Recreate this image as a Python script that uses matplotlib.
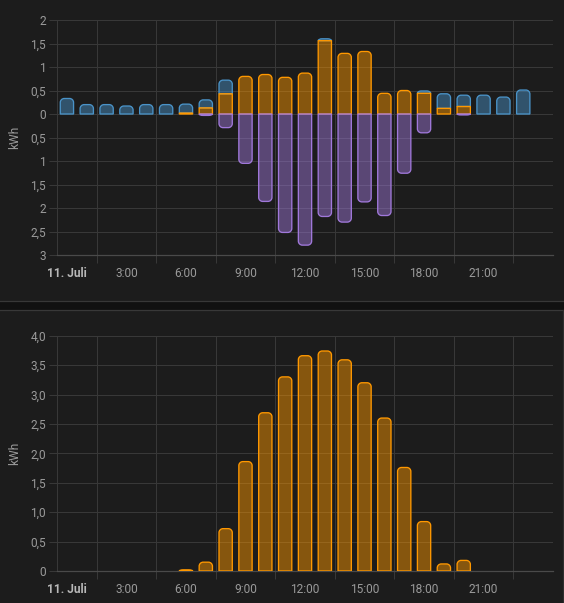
import matplotlib
matplotlib.use("Agg")
import matplotlib.pyplot as plt
from matplotlib.path import Path
from matplotlib.patches import PathPatch, Rectangle
from matplotlib.lines import Line2D
from matplotlib.colors import to_rgba

# ---------------- data ----------------
hours = list(range(24))
grid_import = [0.33, 0.20, 0.20, 0.17, 0.20, 0.20, 0.19, 0.17, 0.29, 0, 0, 0,
               0, 0.04, 0, 0, 0, 0, 0.05, 0.31, 0.24, 0.40, 0.36, 0.51]
solar_used = [0, 0, 0, 0, 0, 0, 0.02, 0.13, 0.43, 0.80, 0.84, 0.78,
              0.87, 1.56, 1.29, 1.33, 0.44, 0.50, 0.44, 0.12, 0.16, 0, 0, 0]
grid_return = [0, 0, 0, 0, 0, 0, 0, 0.03, 0.29, 1.05, 1.86, 2.52,
               2.79, 2.18, 2.30, 1.87, 2.16, 1.26, 0.40, 0, 0.02, 0, 0, 0]
solar_production = [0, 0, 0, 0, 0, 0, 0.02, 0.15, 0.72, 1.86, 2.69, 3.30,
                    3.66, 3.74, 3.59, 3.20, 2.60, 1.76, 0.84, 0.12, 0.18, 0, 0, 0]

label_hours = [0, 3, 6, 9, 12, 15, 18, 21]
hour_labels = ["11. Juli", "3:00", "6:00", "9:00", "12:00", "15:00", "18:00", "21:00"]
top_yticks = [-3, -2.5, -2, -1.5, -1, -0.5, 0, 0.5, 1, 1.5, 2]
top_ylabels = ["3", "2,5", "2", "1,5", "1", "0,5", "0", "0,5", "1", "1,5", "2"]
bottom_yticks = [0, 0.5, 1, 1.5, 2, 2.5, 3, 3.5, 4]
bottom_ylabels = ["0", "0,5", "1,0", "1,5", "2,0", "2,5", "3,0", "3,5", "4,0"]
unit = "kWh"

# ---------------- style ----------------
BG = "#1c1c1c"
GRID = "#383838"
AXIS = "#4a4a4a"
TXT = "#9a9a9a"
TXT_B = "#b8b8b8"
BLUE = "#4a93c8"
ORANGE = "#ff9800"
PURPLE = "#a078da"
FONT = "Roboto"
FS = 8.6
BAR_W = 0.67
RADIUS_PX = 4.0
FILL_ALPHA = 0.47

W, H = 564, 603
fig = plt.figure(figsize=(W / 100, H / 100), dpi=100, facecolor=BG)

# card separator
fig.patches.append(Rectangle((0, 1 - 309.5 / H), 1, 9 / H, transform=fig.transFigure,
                             facecolor="#111111", edgecolor="none", zorder=0))
fig.lines.append(Line2D([0, 1], [1 - 300.5 / H] * 2, transform=fig.transFigure,
                        color="#383838", lw=0.9))
fig.lines.append(Line2D([0, 1], [1 - 309.5 / H] * 2, transform=fig.transFigure,
                        color="#383838", lw=0.9))
fig.lines.append(Line2D([562.5 / W] * 2, [0, 1 - 309.5 / H], transform=fig.transFigure,
                        color="#2e2e2e", lw=0.9))

L, R = 57, 553
ax1 = fig.add_axes([L / W, 1 - 255 / H, (R - L) / W, (255 - 20) / H])
ax2 = fig.add_axes([L / W, 1 - 571 / H, (R - L) / W, (571 - 335.7) / H])

K = 0.5523


def bar(ax, x, y0, y1, color, round_end=True):
    if y1 == y0:
        return
    x0, x1 = x - BAR_W / 2, x + BAR_W / 2
    p0 = ax.transData.transform((0, 0))
    p1 = ax.transData.transform((1, 1))
    sx, sy = abs(p1[0] - p0[0]), abs(p1[1] - p0[1])
    if round_end:
        rx = min(RADIUS_PX / sx, BAR_W / 2)
        ry = min(RADIUS_PX / sy, abs(y1 - y0))
    else:
        rx = ry = 0.0
    s = 1 if y1 > y0 else -1
    yr = y1 - s * ry
    verts = [(x0, y0), (x0, yr), (x0, yr + s * ry * K), (x0 + rx * (1 - K), y1),
             (x0 + rx, y1), (x1 - rx, y1), (x1 - rx * (1 - K), y1),
             (x1, yr + s * ry * K), (x1, yr), (x1, y0), (x0, y0)]
    codes = [Path.MOVETO, Path.LINETO, Path.CURVE4, Path.CURVE4, Path.CURVE4,
             Path.LINETO, Path.CURVE4, Path.CURVE4, Path.CURVE4, Path.LINETO,
             Path.CLOSEPOLY]
    ax.add_patch(PathPatch(Path(verts, codes), facecolor=to_rgba(color, FILL_ALPHA),
                           edgecolor=color, lw=0.95, zorder=3))


def style_axes(ax, yticks, ylabels, ylim):
    ax.set_facecolor(BG)
    ax.set_xlim(-0.5, 24.5)
    ax.set_ylim(*ylim)
    ax.set_yticks(yticks)
    ax.set_yticklabels(ylabels, fontfamily=FONT, fontsize=FS, color=TXT)
    ax.set_xticks(label_hours)
    ax.set_xticks([1.5 + 3 * i for i in range(8)], minor=True)
    labels = ax.set_xticklabels(hour_labels, fontfamily=FONT, fontsize=FS, color=TXT)
    labels[0].set_fontweight("bold")
    labels[0].set_color(TXT_B)
    ax.tick_params(axis="y", length=5.8, width=0.72, color=GRID, pad=2.2)
    ax.tick_params(axis="x", which="major", length=0, pad=8.3)
    ax.tick_params(axis="x", which="minor", length=5.8, width=0.72, color=GRID)
    ax.grid(axis="y", color=GRID, lw=0.72, zorder=0)
    ax.grid(axis="x", which="minor", color=GRID, lw=0.72, zorder=0)
    ax.set_axisbelow(True)
    for side in ("top", "right"):
        ax.spines[side].set_visible(False)
    ax.spines["left"].set_color(GRID)
    ax.spines["left"].set_linewidth(0.72)
    ax.spines["bottom"].set_color(AXIS)
    ax.spines["bottom"].set_linewidth(0.9)


style_axes(ax1, top_yticks, top_ylabels, (-3, 2))
style_axes(ax2, bottom_yticks, bottom_ylabels, (0, 4))

# top chart: consumption / return
for h, g, s, r in zip(hours, grid_import, solar_used, grid_return):
    if g > 0:
        bar(ax1, h, s, s + g, BLUE, round_end=True)
    if s > 0:
        bar(ax1, h, 0, s, ORANGE, round_end=(g == 0))
    if r > 0:
        bar(ax1, h, 0, -r, PURPLE, round_end=True)

# bottom chart: solar production
for h, p in zip(hours, solar_production):
    if p > 0:
        bar(ax2, h, 0, p, ORANGE, round_end=True)

for yc in (137.5, 453.3):
    fig.text(15 / W, 1 - yc / H, unit, rotation=90, ha="center", va="center",
             fontfamily=FONT, fontsize=FS, color=TXT)

fig.savefig("out.png", dpi=100, facecolor=BG)
